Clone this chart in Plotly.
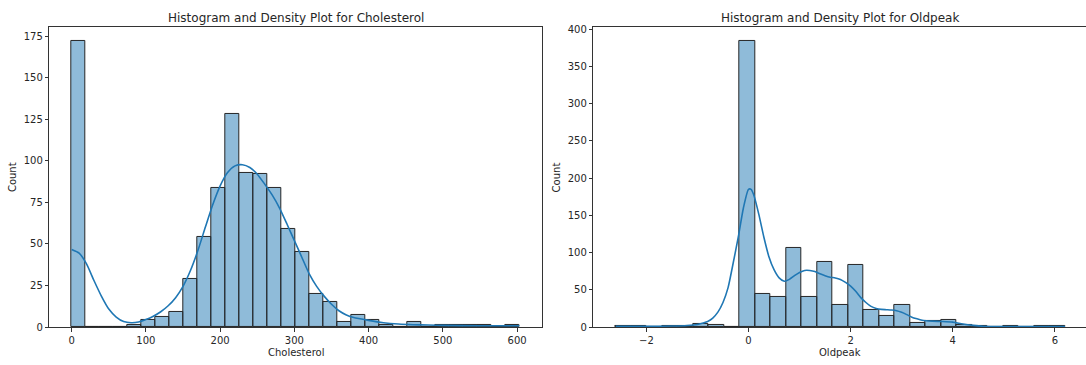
import numpy as np
import plotly.graph_objects as go

# ---------------- data ----------------
chol_min, chol_max = 0.0, 603.0
chol_counts = [172, 0, 0, 0, 1, 4, 6, 9, 29, 54, 84, 128, 93, 92, 84, 59,
               45, 20, 15, 3, 7, 4, 1, 0, 3, 0, 1, 1, 1, 1, 0, 1]
chol_kde_x = [0, 10, 20, 30, 40, 50, 60, 70, 80, 90, 100, 110, 120, 130, 140,
              150, 160, 170, 180, 190, 200, 210, 220, 230, 240, 250, 260, 270,
              280, 290, 300, 310, 320, 330, 340, 350, 360, 370, 380, 400, 420,
              440, 460, 480, 500, 550, 603]
chol_kde_y = [46.7, 44.5, 38, 28, 18.6, 10.8, 6, 3.3, 2.6, 3, 4.5, 6.5, 9.2, 12.8,
              17.7, 24.5, 34, 46, 60, 73.6, 85, 93, 97, 97.7, 96, 92, 86, 79.5,
              71.6, 62, 52, 42, 32, 24.5, 18.6, 13.7, 9.8, 7.3, 5.7, 4, 2.6,
              1.8, 1.4, 1.2, 1.0, 0.8, 0.8]

old_min, old_max = -2.6, 6.2
old_counts = [1, 1, 0, 1, 1, 4, 3, 0, 384, 44, 40, 106, 40, 87, 30, 83, 23,
              15, 30, 5, 8, 10, 3, 2, 0, 1, 0, 1, 1]
old_kde_x = [-2.6, -2.0, -1.5, -1.2, -1.0, -0.8, -0.7, -0.6, -0.5, -0.4, -0.3,
             -0.2, -0.1, 0.0, 0.05, 0.1, 0.2, 0.3, 0.4, 0.5, 0.6, 0.7, 0.8, 0.9,
             1.0, 1.1, 1.2, 1.3, 1.4, 1.5, 1.6, 1.7, 1.8, 1.9, 2.0, 2.1, 2.2,
             2.3, 2.4, 2.5, 2.6, 2.7, 2.8, 2.9, 3.0, 3.1, 3.2, 3.3, 3.4, 3.6,
             3.8, 4.0, 4.2, 4.4, 4.6, 5.0, 6.2]
old_kde_y = [1, 1, 1.3, 2, 3.5, 7.5, 12, 20, 33, 53, 86, 121, 160, 185, 185,
             178, 152, 121, 94.5, 77, 66, 61.5, 64, 69, 73.4, 76, 76, 74.7,
             71.6, 69, 67, 66, 64, 60, 55, 48, 39.5, 33, 27.7, 25, 23.7, 23.3,
             22.9, 22, 19.8, 16.7, 13.2, 11, 9.2, 7.9, 7.5, 6.6, 4, 2.2, 1.0,
             0.5, 0.5]

chol_yticks = [0, 25, 50, 75, 100, 125, 150, 175]
chol_xticks = [0, 100, 200, 300, 400, 500, 600]
old_yticks = [0, 50, 100, 150, 200, 250, 300, 350, 400]
old_xticks = [-2, 0, 2, 4, 6]
old_xtick_text = ["\u22122", "0", "2", "4", "6"]

# ---------------- figure ----------------
W, H = 1086, 365
BAR_FILL = "rgba(31,119,180,0.5)"
EDGE = "#262626"
LINE = "#1f77b4"
TXT = "#262626"
FONT = "DejaVu Sans"

fig = go.Figure()


def add_hist(counts, lo, hi, xa, ya):
    edges = np.linspace(lo, hi, len(counts) + 1)
    centers = (edges[:-1] + edges[1:]) / 2
    width = edges[1] - edges[0]
    fig.add_trace(go.Bar(
        x=centers, y=counts, width=width, xaxis=xa, yaxis=ya,
        marker=dict(color=BAR_FILL, line=dict(color=EDGE, width=1)),
        showlegend=False, hoverinfo="x+y"))


add_hist(chol_counts, chol_min, chol_max, "x", "y")
fig.add_trace(go.Scatter(x=chol_kde_x, y=chol_kde_y, mode="lines",
                         line=dict(color=LINE, width=1.6, shape="spline", smoothing=0.6),
                         xaxis="x", yaxis="y", showlegend=False))
add_hist(old_counts, old_min, old_max, "x2", "y2")
fig.add_trace(go.Scatter(x=old_kde_x, y=old_kde_y, mode="lines",
                         line=dict(color=LINE, width=1.6, shape="spline", smoothing=0.6),
                         xaxis="x2", yaxis="y2", showlegend=False))

# axes pixel geometry
L1, R1 = 49.3, 541.7
L2, R2 = 593.3, 1087.5
TOP, BOT = 24.5, 331.3
ydom = [1 - BOT / H, 1 - TOP / H]

axis_common = dict(showgrid=False, zeroline=False, showline=True, linecolor="#333",
                   linewidth=1, ticks="outside", ticklen=3.5, tickwidth=0.8,
                   tickcolor="#333", tickfont=dict(family=FONT, size=10, color=TXT))

chol_pad = (chol_max - chol_min) * 0.05
old_pad = (old_max - old_min) * 0.05
old_lo = old_min - old_pad
old_hi_full = old_max + old_pad
old_hi_vis = old_lo + (W - L2) / (R2 - L2) * (old_hi_full - old_lo)

fig.update_layout(
    width=W, height=H, margin=dict(l=0, r=0, t=0, b=0),
    paper_bgcolor="white", plot_bgcolor="white", bargap=0,
    font=dict(family=FONT, color=TXT),
    xaxis=dict(domain=[L1 / W, R1 / W], range=[chol_min - chol_pad, chol_max + chol_pad],
               tickvals=chol_xticks, mirror=True, anchor="y", **axis_common),
    yaxis=dict(domain=ydom, range=[0, max(chol_counts) * 1.05], tickvals=chol_yticks,
               mirror=True, anchor="x", **axis_common),
    xaxis2=dict(domain=[L2 / W, 1.0], range=[old_lo, old_hi_vis],
                tickvals=old_xticks, ticktext=old_xtick_text, mirror=True, anchor="y2",
                **axis_common),
    yaxis2=dict(domain=ydom, range=[0, max(old_counts) * 1.05], tickvals=old_yticks,
                mirror=False, anchor="x2", **axis_common),
)


def label(text, px, py, size=10, angle=0):
    return dict(text=text, x=px / W, y=1 - py / H, xref="paper", yref="paper",
                xanchor="center", yanchor="middle", showarrow=False, textangle=angle,
                font=dict(family=FONT, size=size, color=TXT))


ann = [
    label("Histogram and Density Plot for Cholesterol", (L1 + R1) / 2, 15.5, 12),
    label("Histogram and Density Plot for Oldpeak", (L2 + R2) / 2, 15.5, 12),
    label("Cholesterol", (L1 + R1) / 2, 357),
    label("Oldpeak", (L2 + R2) / 2, 357),
    label("Count", 12, 178, angle=-90),
    label("Count", L2 - 37, 178, angle=-90),
]
fig.update_layout(annotations=ann)

fig.write_html("out.html", config={"displayModeBar": False},
               post_script="document.body.style.margin='0';")
